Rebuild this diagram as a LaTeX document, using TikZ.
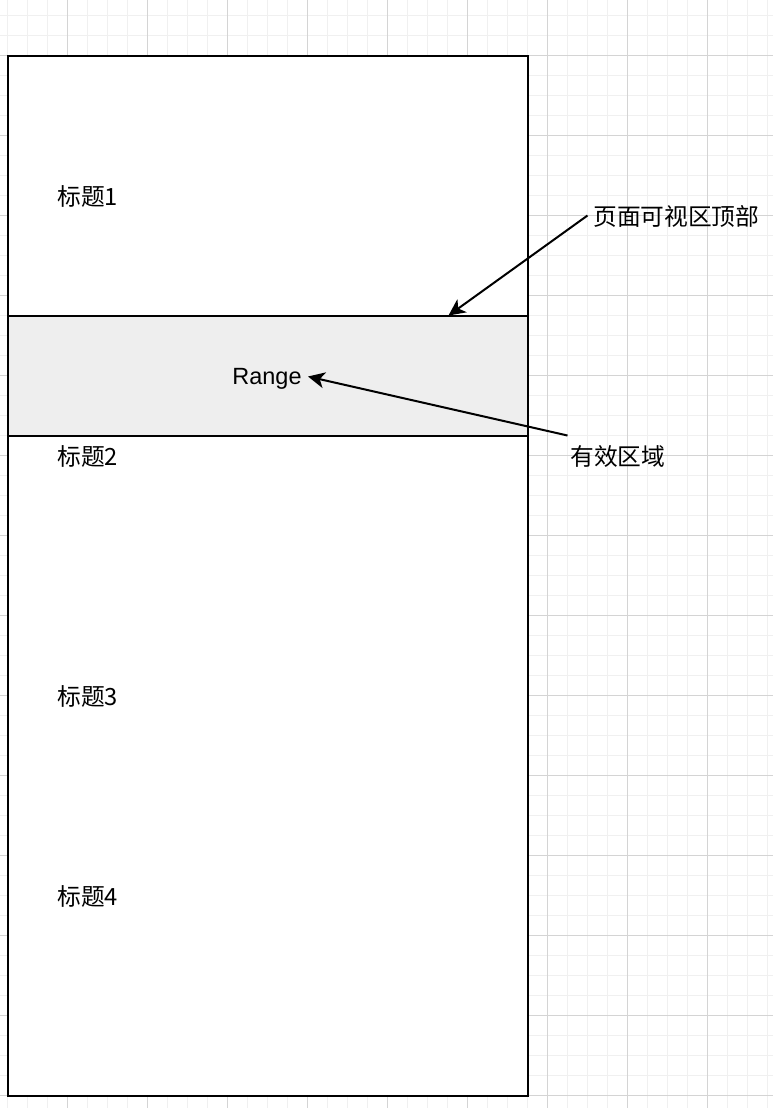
\documentclass[tikz,border=0pt]{standalone}
\usepackage{fontspec}
\setmainfont{Liberation Sans}
\newfontfamily\cjk{Noto Sans CJK SC}
\usetikzlibrary{arrows.meta}
\definecolor{gridminor}{HTML}{F0F0F0}
\definecolor{gridmajor}{HTML}{D4D4D4}
\definecolor{rangefill}{HTML}{EEEEEE}
\tikzset{
  lbl/.style={inner sep=0pt, font=\fontsize{17.8pt}{20pt}\selectfont\cjk},
  lat/.style={inner sep=0pt, font=\fontsize{17.6pt}{20pt}\selectfont},
  box/.style={draw=black, line width=1.5pt},
  conn/.style={draw=black, line width=1.5pt, -{Stealth[length=12.5pt,width=12pt,inset=3.5pt]}},
}
\begin{document}
\begin{tikzpicture}[x=0.75pt,y=-0.75pt]
\useasboundingbox (0,0) rectangle (773,1108);
\fill[white] (0,0) rectangle (773,1108);
% grid
\foreach \x in {7,27,...,773} \draw[gridminor,line width=0.75pt] (\x,0) -- (\x,1108);
\foreach \y in {15,35,...,1108} \draw[gridminor,line width=0.75pt] (0,\y) -- (773,\y);
\foreach \x in {67,147,...,773} \draw[gridmajor,line width=0.75pt] (\x,0) -- (\x,1108);
\foreach \y in {55,135,...,1108} \draw[gridmajor,line width=0.75pt] (0,\y) -- (773,\y);
% page
\filldraw[box, fill=white] (7.5,55.5) rectangle (527.5,1095.5);
\filldraw[box, fill=rangefill] (7.5,315.5) rectangle (527.5,435.5);
% labels
\node[lbl, anchor=west] (t1) at (57,196) {标题1};
\node[lbl, anchor=west] (t2) at (57,456) {标题2};
\node[lbl, anchor=west] (t3) at (57,696) {标题3};
\node[lbl, anchor=west] (t4) at (57,896) {标题4};
\node[lat, anchor=base] (range) at (267,384) {Range};
\node[lbl, anchor=west] (top) at (593,216) {页面可视区顶部};
\node[lbl, anchor=west] (valid) at (570,456) {有效区域};
% connectors
\coordinate (topstart) at (587.5,215.5);
\coordinate (topend) at (448.5,315.5);
\coordinate (validstart) at (567.5,435.5);
\coordinate (rangeend) at (308,376.5);
\draw[conn] (topstart) -- (topend);
\draw[conn] (validstart) -- (rangeend);
\end{tikzpicture}
\end{document}
